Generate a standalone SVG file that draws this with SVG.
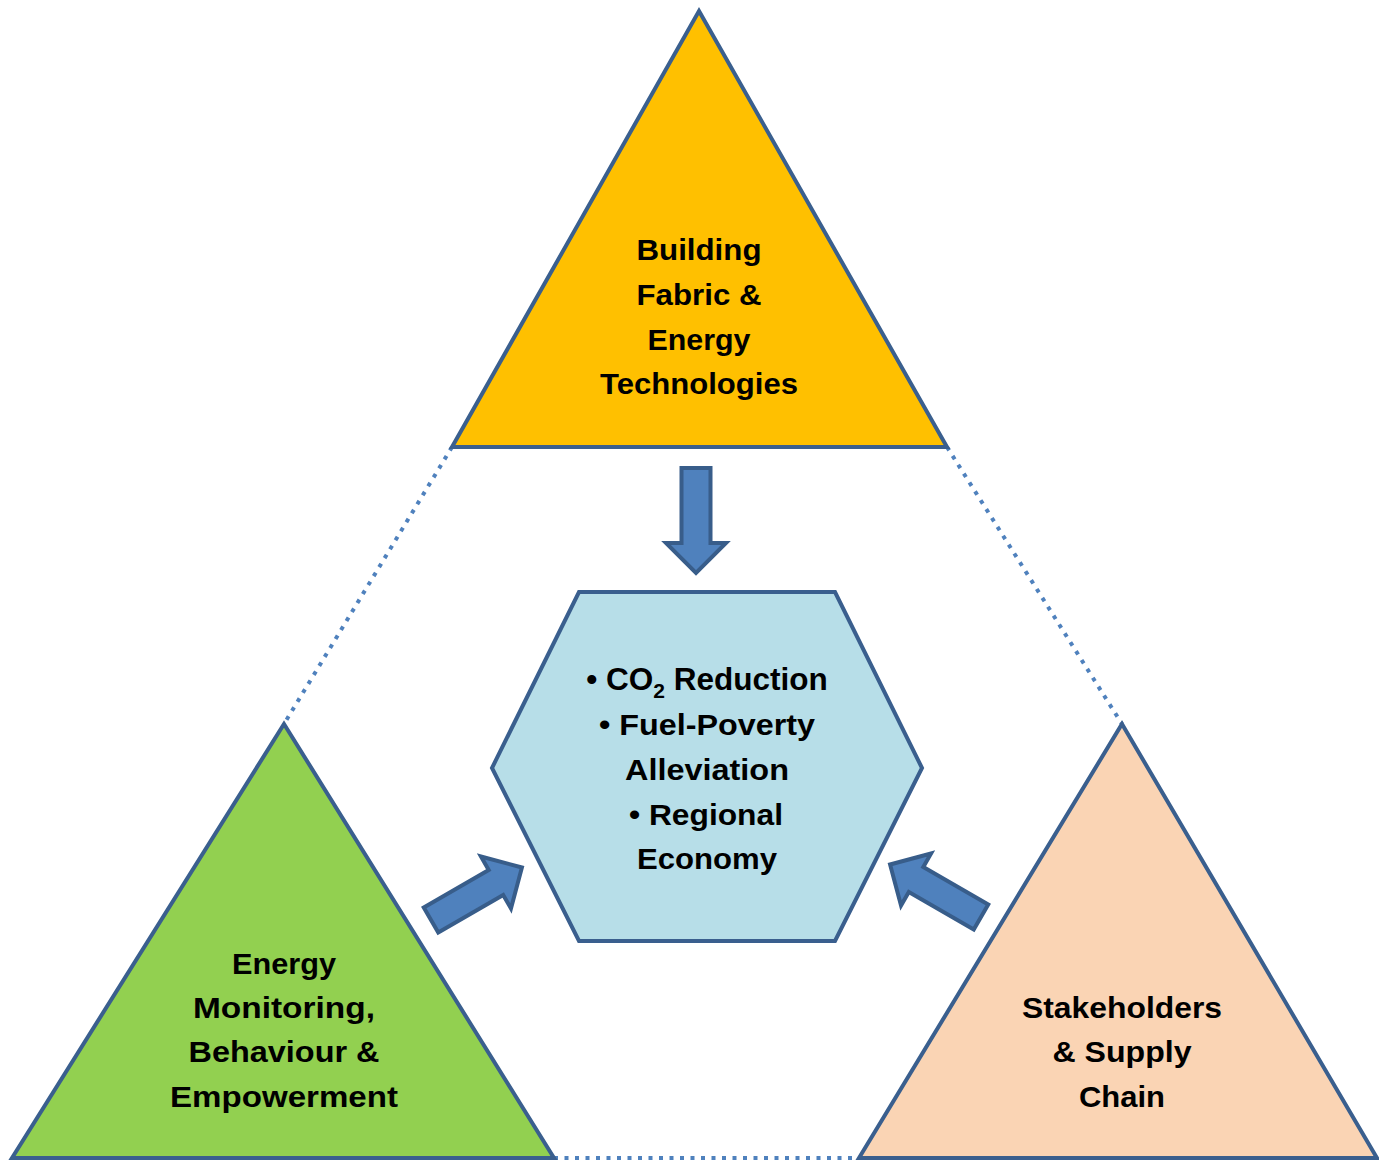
<svg xmlns="http://www.w3.org/2000/svg" width="1379" height="1161" viewBox="0 0 1379 1161">
<defs>
<style>
.shape{stroke:#3A5F8E;stroke-width:4;stroke-linejoin:miter}
.dot{fill:none;stroke:#4F81BD;stroke-width:4;stroke-dasharray:4 6.5}
.arrow{fill:#4F81BD;stroke:#385D8A;stroke-width:4;stroke-linejoin:miter}
.lbl{font-family:"Liberation Sans",Arial,sans-serif;font-weight:bold;font-size:30px;fill:#000;text-anchor:middle}
</style>
<path id="arr" d="M0,-14.5 L75,-14.5 L75,-30 L105,0 L75,30 L75,14.5 L0,14.5 Z"/>
</defs>
<rect width="1379" height="1161" fill="#fff"/>
<g id="connectors">
<line class="dot" x1="452" y1="447" x2="284" y2="724"/>
<line class="dot" x1="947" y1="447" x2="1122" y2="724"/>
<line class="dot" x1="554" y1="1158" x2="859" y2="1158"/>
<use href="#arr" class="arrow" transform="translate(696,468) rotate(90)"/>
<use href="#arr" class="arrow" transform="translate(431,920) rotate(-30)"/>
<use href="#arr" class="arrow" transform="translate(981,917) rotate(-150)"/>
</g>
<g id="top">
<polygon class="shape" fill="#FFC000" points="699,11 947,447 452,447"/>
<text class="lbl"><tspan x="699" y="260" textLength="125" lengthAdjust="spacingAndGlyphs">Building</tspan><tspan x="699" y="305" textLength="125" lengthAdjust="spacingAndGlyphs">Fabric &amp;</tspan><tspan x="699" y="350" textLength="103" lengthAdjust="spacingAndGlyphs">Energy</tspan><tspan x="699" y="394" textLength="198" lengthAdjust="spacingAndGlyphs">Technologies</tspan></text>
</g>
<g id="left">
<polygon class="shape" fill="#92D050" points="284,724 554,1158 12,1158"/>
<text class="lbl"><tspan x="284" y="974" textLength="104" lengthAdjust="spacingAndGlyphs">Energy</tspan><tspan x="284" y="1018" textLength="182" lengthAdjust="spacingAndGlyphs">Monitoring,</tspan><tspan x="284" y="1062" textLength="191" lengthAdjust="spacingAndGlyphs">Behaviour &amp;</tspan><tspan x="284" y="1107" textLength="228" lengthAdjust="spacingAndGlyphs">Empowerment</tspan></text>
</g>
<g id="right">
<polygon class="shape" fill="#FAD4B4" points="1122,724 1377,1158 859,1158"/>
<text class="lbl"><tspan x="1122" y="1018" textLength="200" lengthAdjust="spacingAndGlyphs">Stakeholders</tspan><tspan x="1122" y="1062" textLength="139" lengthAdjust="spacingAndGlyphs">&amp; Supply</tspan><tspan x="1122" y="1107" textLength="86" lengthAdjust="spacingAndGlyphs">Chain</tspan></text>
</g>
<g id="center">
<polygon class="shape" fill="#B7DEE8" points="579,592 835,592 922,768 835,941 579,941 492,768"/>
<text class="lbl" x="707" y="690" style="font-size:31.5px">• CO<tspan font-size="21" dy="8">2</tspan><tspan dy="-8"> Reduction</tspan></text>
<text class="lbl" x="707" y="735" textLength="216" lengthAdjust="spacingAndGlyphs">• Fuel-Poverty</text>
<text class="lbl" x="707" y="780" textLength="164" lengthAdjust="spacingAndGlyphs">Alleviation</text>
<text class="lbl" x="706" y="825" textLength="154" lengthAdjust="spacingAndGlyphs">• Regional</text>
<text class="lbl" x="707" y="869" textLength="140" lengthAdjust="spacingAndGlyphs">Economy</text>
</g>
</svg>
